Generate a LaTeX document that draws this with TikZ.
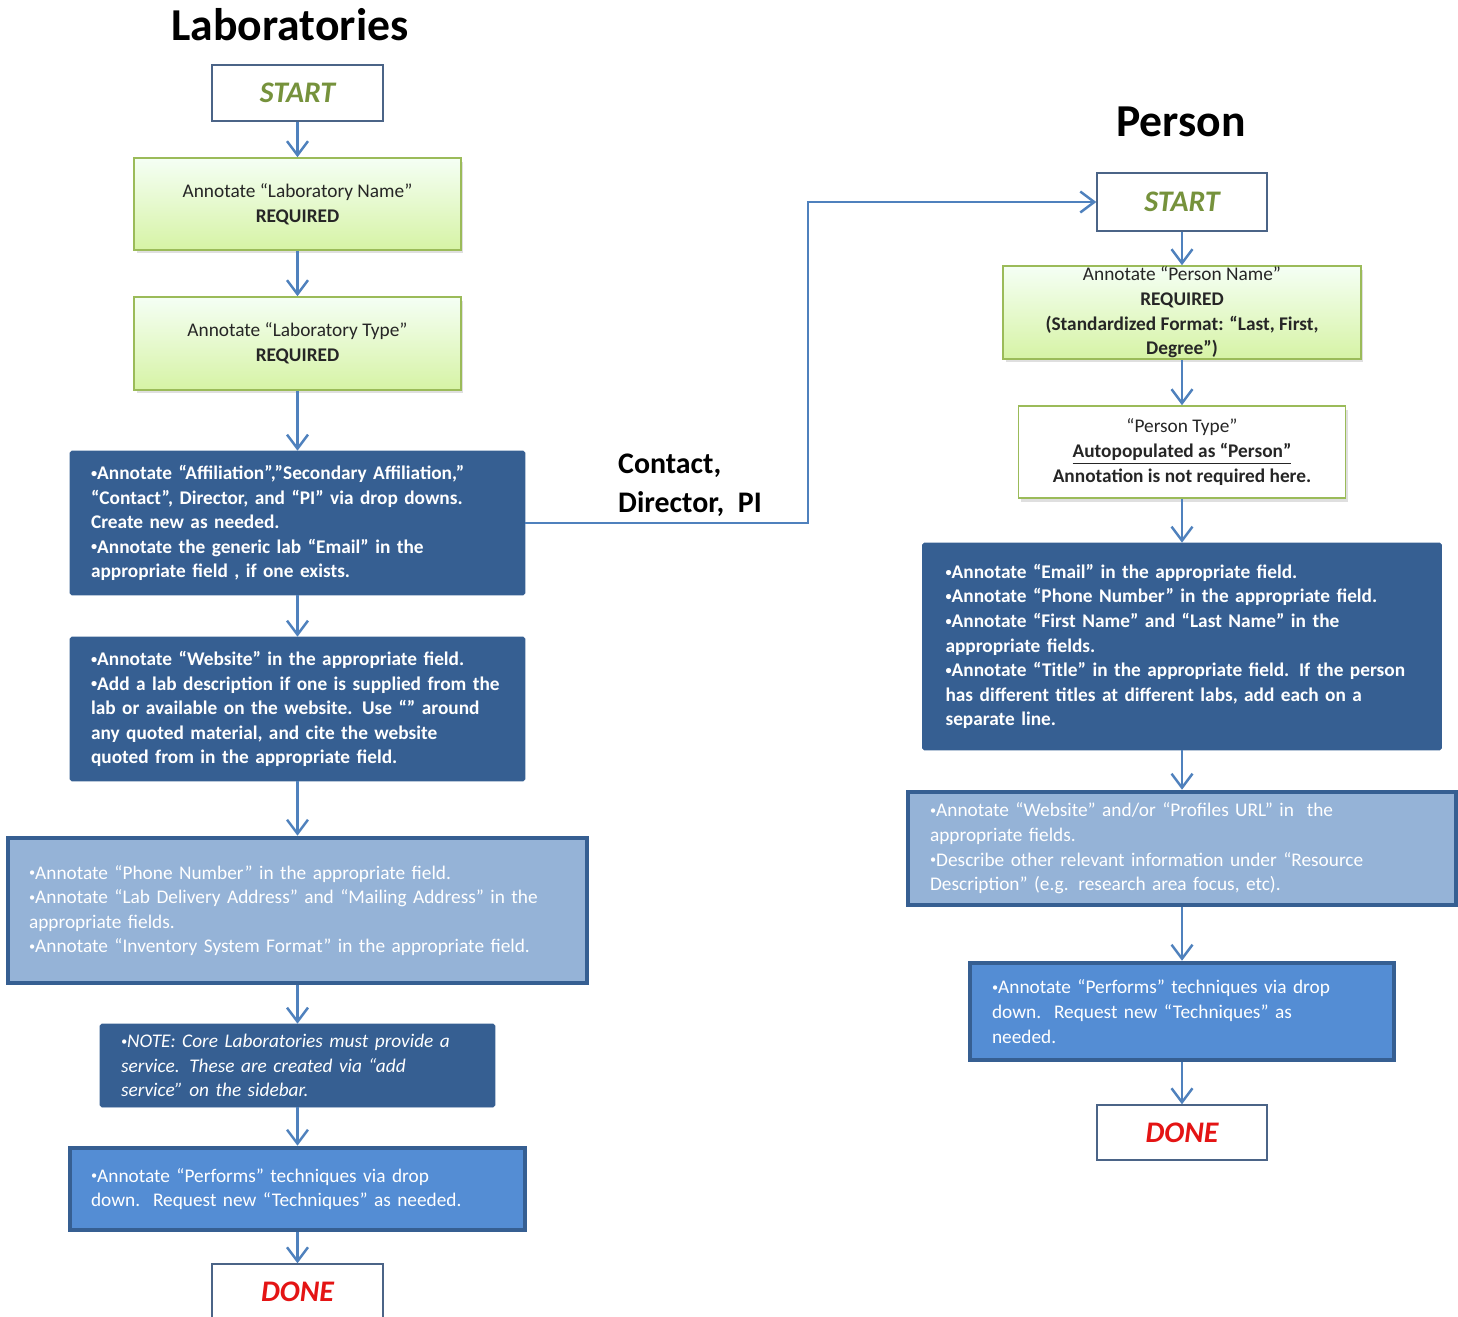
\documentclass[tikz,border=0pt]{standalone}
\usepackage{fontspec}
\setmainfont{Carlito}
\usepackage{xcolor}
\usepackage{tikz}
\usetikzlibrary{arrows.meta,shadows}
\definecolor{labDark}{RGB}{54,95,146}
\definecolor{labLight}{RGB}{149,179,215}
\definecolor{labMid}{RGB}{84,141,212}
\definecolor{flowBlue}{RGB}{79,129,189}
\definecolor{startGreen}{RGB}{118,146,60}
\definecolor{doneRed}{RGB}{228,20,20}
\definecolor{boxGreen}{RGB}{155,187,89}
\definecolor{greenLow}{RGB}{214,243,165}
\definecolor{frameGray}{RGB}{75,100,135}
\newcommand\boxfont{\fontsize{11}{14}\selectfont}
\newcommand\dotmark{\raisebox{0.12em}{\fontsize{7}{7}\selectfont •}}

\begin{document}
\begin{tikzpicture}[x=0.02cm,y=-0.02cm,
    title/.style={font=\fontsize{26}{30}\selectfont\bfseries},
    endbox/.style={draw=frameGray, line width=0.8pt, fill=white, minimum width=3.42cm, minimum height=1.12cm,
        font=\fontsize{17}{20}\selectfont\bfseries\itshape},
    greenframe/.style={draw=boxGreen, line width=0.9pt,
        drop shadow={opacity=0.25, shadow xshift=0.05cm, shadow yshift=-0.07cm},
        align=center, inner sep=0pt, font=\boxfont, text=black!85},
    greenbox/.style={greenframe, top color=green!4!white, bottom color=greenLow},
    typebox/.style={greenframe, fill=white},
    darkbox/.style={fill=labDark, draw=labDark, rounded corners=1pt, text=white, align=left,
        inner xsep=0.42cm, inner ysep=0pt, font=\boxfont\bfseries},
    lightbox/.style={fill=labLight, draw=labDark, line width=2.6pt, text=white, align=left,
        inner xsep=0.42cm, inner ysep=0pt, font=\boxfont},
    midbox/.style={fill=labMid, draw=labDark, line width=2.6pt, text=white, align=left,
        inner xsep=0.42cm, inner ysep=0pt, font=\boxfont},
    flowarrow/.style={draw=flowBlue, line width=1.4pt, -{Straight Barb[length=0.28cm, width=0.42cm]}}]
    \useasboundingbox (0,0) rectangle (1458,1316);
    % Laboratories
    \node[title] (labTitle) at (290,25) {Laboratories};
    \node[endbox, text=startGreen] (labStart) at (297.5,93) {START};
    \node[greenbox, minimum width=6.54cm, minimum height=1.84cm] (labName) at (297.5,204)
        {Annotate “Laboratory Name”\\ \textbf{REQUIRED}};
    \node[greenbox, minimum width=6.54cm, minimum height=1.86cm] (labType) at (297.5,343.5)
        {Annotate “Laboratory Type”\\ \textbf{REQUIRED}};
    \node[darkbox, text width=8.26cm, minimum height=2.88cm] (labAffil) at (297.5,523)
        {\dotmark Annotate “Affiliation”,”Secondary Affiliation,”\\ “Contact”, Director, and “PI” via drop downs.\\
         Create new as needed.\\ \dotmark Annotate the generic lab “Email” in the\\ appropriate field , if one exists.};
    \node[darkbox, text width=8.26cm, minimum height=2.88cm] (labWeb) at (297.5,709)
        {\dotmark Annotate “Website” in the appropriate field.\\ \dotmark Add a lab description if one is supplied from the\\
         lab or available on the website. Use “” around\\ any quoted material, and cite the website\\
         quoted from in the appropriate field.};
    \node[lightbox, text width=10.74cm, minimum height=2.9cm] (labPhone) at (297.5,910.5)
        {\dotmark Annotate “Phone Number” in the appropriate field.\\ \dotmark Annotate “Lab Delivery Address” and “Mailing Address” in the\\
         appropriate fields.\\ \dotmark Annotate “Inventory System Format” in the appropriate field.};
    \node[darkbox, font=\boxfont\itshape, text width=7.06cm, minimum height=1.66cm] (labNote) at (297.5,1065.5)
        {\dotmark NOTE: Core Laboratories must provide a\\ service. These are created via “add\\ service” on the sidebar.};
    \node[midbox, text width=8.26cm, minimum height=1.64cm] (labPerf) at (297.5,1189)
        {\dotmark Annotate “Performs” techniques via drop\\ down.\ \ Request new “Techniques” as needed.};
    \node[endbox, text=doneRed] (labDone) at (297.5,1292) {DONE};
    % Person
    \node[title] (perTitle) at (1181,122) {Person};
    \node[endbox, text=startGreen, minimum width=3.4cm, minimum height=1.16cm] (perStart) at (1182,202) {START};
    \node[greenbox, minimum width=7.16cm, minimum height=1.86cm] (perName) at (1182,312.5)
        {Annotate “Person Name”\\ \textbf{REQUIRED}\\ \textbf{(Standardized Format: “Last, First,}\\ \textbf{Degree”)}};
    \node[typebox, minimum width=6.54cm, minimum height=1.84cm] (perType) at (1182,452)
        {“Person Type”\\ \textbf{\underline{Autopopulated as “Person”}}\\ \textbf{Annotation is not required here.}};
    \node[darkbox, inner xsep=0.46cm, text width=9.46cm, minimum height=4.14cm] (perInfo) at (1182,646.5)
        {\dotmark Annotate “Email” in the appropriate field.\\ \dotmark Annotate “Phone Number” in the appropriate field.\\
         \dotmark Annotate “First Name” and “Last Name” in the\\ appropriate fields.\\
         \dotmark Annotate “Title” in the appropriate field. If the person\\ has different titles at different labs, add each on a\\
         separate line.};
    \node[lightbox, inner xsep=0.44cm, text width=10.08cm, minimum height=2.26cm] (perWeb) at (1182,848.5)
        {\dotmark Annotate “Website” and/or “Profiles URL” in\ \ the\\ appropriate fields.\\
         \dotmark Describe other relevant information under “Resource\\ Description” (e.g. research area focus, etc).};
    \node[midbox, inner xsep=0.44cm, text width=7.6cm, minimum height=1.94cm] (perPerf) at (1182,1011.5)
        {\dotmark Annotate “Performs” techniques via drop\\ down.\ \ Request new “Techniques” as\\ needed.};
    \node[endbox, text=doneRed, minimum width=3.4cm, minimum height=1.1cm] (perDone) at (1182,1132.5) {DONE};
    % flow
    \foreach \a/\b in {labStart/labName, labName/labType, labType/labAffil, labAffil/labWeb, labWeb/labPhone,
        labPhone/labNote, labNote/labPerf, labPerf/labDone, perStart/perName, perName/perType, perType/perInfo,
        perInfo/perWeb, perWeb/perPerf, perPerf/perDone}
        \draw[flowarrow] (\a) -- (\b);
    \coordinate (turnX) at (808,0);
    \draw[flowarrow] (labAffil.east) -- (labAffil.east -| turnX) |- (perStart.west);
    \node[anchor=west, align=left, font=\fontsize{17}{22}\selectfont\bfseries] (contactLabel) at (612,485)
        {Contact,\\ Director,\ \ PI};
\end{tikzpicture}
\end{document}
